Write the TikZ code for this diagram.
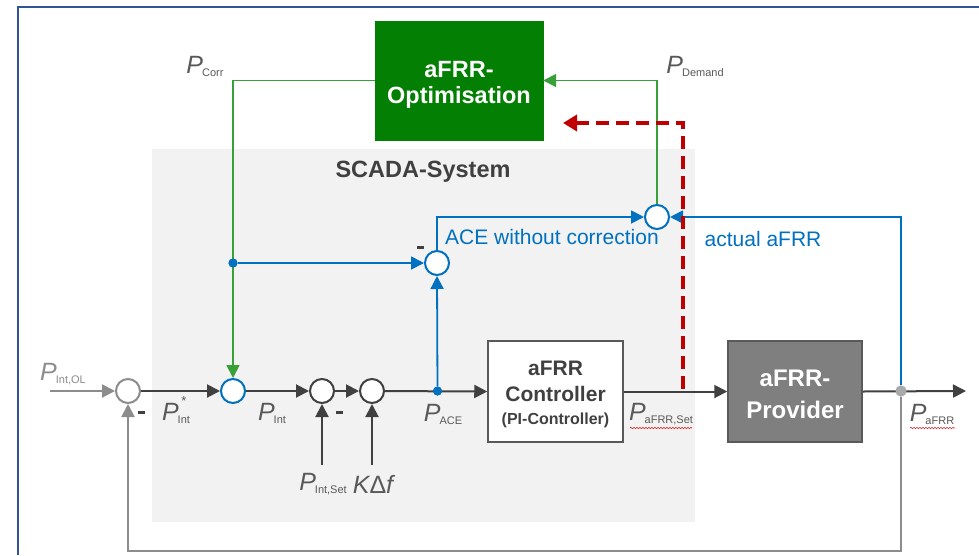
\documentclass[tikz,border=0pt]{standalone}
\usepackage{fontspec}
\setmainfont{Liberation Sans}
\usetikzlibrary{arrows.meta,decorations.pathmorphing}
\definecolor{framec}{HTML}{2F5597}
\definecolor{scada}{HTML}{F2F2F2}
\definecolor{dk}{HTML}{404040}
\definecolor{lab}{HTML}{595959}
\definecolor{fbg}{HTML}{8C8C8C}
\definecolor{blu}{HTML}{0070C0}
\definecolor{gln}{HTML}{38A038}
\definecolor{gbox}{HTML}{038003}
\definecolor{redd}{HTML}{C00000}
\definecolor{provc}{HTML}{7F7F7F}
\newcommand{\Pv}[1]{{\fontsize{25}{25}\selectfont\itshape P}\kern-1pt\raisebox{-3pt}{\fontsize{11}{11}\selectfont #1}}
\begin{document}
\begin{tikzpicture}[x=1pt,y=-1pt,
  sumc/.style={circle,draw,fill=white,line width=2pt,minimum size=24pt,inner sep=0pt},
  dotn/.style={circle,fill,inner sep=0pt,minimum size=#1},
  arr/.style={-{Triangle[length=13pt,width=13pt]}},
  mainln/.style={draw=dk,line width=2pt},
  bln/.style={draw=blu,line width=1.8pt},
  gl/.style={draw=gln,line width=1.8pt},
  lbl/.style={text=lab,inner sep=0pt},
  minus/.style={fill=dk,minimum width=7pt,minimum height=3pt,inner sep=0pt},
  wavy/.style={draw=redd!80,line width=0.6pt,decorate,decoration={snake,amplitude=0.8pt,segment length=3pt}}]
\useasboundingbox (0,0) rectangle (979,555);
\fill[white] (0,0) rectangle (979,555);
\draw[framec,line width=2pt] (18,555) -- (18,7) -- (979,7);
\fill[scada] (152,149) rectangle (695,522);
\node[text=dk,font=\fontsize{23.5}{23.5}\selectfont\bfseries] (scadat) at (423,172) {SCADA-System};
% boxes
\node[draw=gbox,fill=gbox,minimum width=168pt,minimum height=119pt] (opt) at (459,80.5) {};
\node[align=center,text=white,font=\fontsize{23.5}{26}\selectfont\bfseries] (optt) at (459,85) {aFRR-\\Optimisation};
\node[draw=lab,fill=white,line width=1.5pt,minimum width=135pt,minimum height=101pt] (ctrl) at (555.5,391.5) {};
\node[align=center,text=dk,font=\fontsize{21}{26}\selectfont\bfseries] (ctrlt) at (555.5,394.5) {aFRR\\Controller\\[-3pt]{\fontsize{16}{18}\selectfont (PI-Controller)}};
\node[draw=lab,fill=provc,line width=1.5pt,minimum width=134pt,minimum height=101pt] (prov) at (795,391.5) {};
\node[align=center,text=white,font=\fontsize{24}{32}\selectfont\bfseries] (provt) at (795,394) {aFRR-\\Provider};
% summing points
\node[sumc,draw=fbg] (c1) at (128,391) {};
\node[sumc,draw=blu] (c2) at (233,391) {};
\node[sumc,draw=dk] (c3) at (322,391) {};
\node[sumc,draw=dk] (c4) at (372,391) {};
\node[sumc,draw=blu] (c5) at (437,263) {};
\node[sumc,draw=blu] (c6) at (657,217) {};
% junction dots
\node[dotn=9pt,blu] (d1) at (437.5,391) {};
\node[dotn=9pt,blu] (d2) at (233,263) {};
\node[dotn=11pt,fill=fbg!75] (d3) at (901,391) {};
% free ends
\coordinate (inp) at (50,391);
\coordinate (outp) at (966,391);
\coordinate (fbc) at (901,551);
\coordinate (pset) at (322,465);
\coordinate (kdf) at (372,465);
\coordinate (rb) at (683,389);
\coordinate (rc) at (683,123);
\coordinate (rt) at (563,123);
% main line
\draw[draw=fbg,line width=2pt,arr,fbg] (inp) -- (c1.west);
\draw[mainln,arr,dk] (c1) -- (c2);
\draw[mainln,arr,dk] (c2) -- (c3);
\draw[mainln,arr,dk] (c3) -- (c4);
\draw[mainln,arr,dk] (c4) -- (ctrl.west);
\draw[mainln,arr,dk] (ctrl.east) -- (prov.west);
\draw[mainln,arr,dk] (prov.east) -- (outp);
\draw[mainln,arr,dk] (pset) -- (c3.south);
\draw[mainln,arr,dk] (kdf) -- (c4.south);
% feedback
\draw[draw=fbg!85,line width=2pt,arr,fbg] (d3) -- (fbc) -| (c1.south);
% green
\draw[gl,arr,gln] (opt.west) -| (c2.north);
\draw[gl,arr,gln] (c6.north) |- (opt.east);
% blue
\draw[bln,arr,blu] (d2) -- (c5.west);
\draw[bln,arr,blu] (d1) -- (c5.south);
\draw[bln,arr,blu] (c5.north) |- (c6.west);
\draw[bln,arr,blu] (d3) |- (c6.east);
\node[dotn=9pt,blu] at (d1) {};
\node[dotn=9pt,blu] at (d2) {};
\node[dotn=11pt,fill=fbg!75] at (d3) {};
% red dashed
\draw[redd,line width=4.5pt,dash pattern=on 13pt off 7pt,-{Triangle[length=14pt,width=16pt]}] (rb) -- (rc) -- (rt);
% labels
\node[lbl,text=fbg] (lol) at (63,374) {\Pv{Int,OL}};
\node[lbl] (lstar) at (176,413) {\Pv{Int}};
\node[lbl,font=\fontsize{13}{13}\selectfont] (lstarx) at (184,401) {*};
\node[lbl] (lint) at (272,413) {\Pv{Int}};
\node[lbl] (lset) at (323,484) {\Pv{Int,Set}};
\node[lbl] (lkdf) at (373,484) {\fontsize{25}{25}\selectfont\itshape K\upshape Δ\itshape f};
\node[lbl] (lace) at (443,414) {\Pv{ACE}};
\node[lbl] (lafs) at (661,414) {\Pv{aFRR,Set}};
\node[lbl] (laf) at (932,414) {\Pv{aFRR}};
\node[lbl] (lcorr) at (205,66) {\Pv{Corr}};
\node[lbl] (ldem) at (695,66) {\Pv{Demand}};
\draw[wavy] (630,428) -- (692,428);
\draw[wavy] (910,428) -- (955,428);
\node[minus] (m1) at (141,412) {};
\node[minus] (m3) at (339,412) {};
\node[minus] (m5) at (420,247) {};
\node[text=blu,inner sep=0pt,font=\fontsize{21}{21}\selectfont] (tace) at (552,237) {ACE without correction};
\node[text=blu,inner sep=0pt,font=\fontsize{21}{21}\selectfont] (tact) at (763,239) {actual aFRR};
\end{tikzpicture}
\end{document}
